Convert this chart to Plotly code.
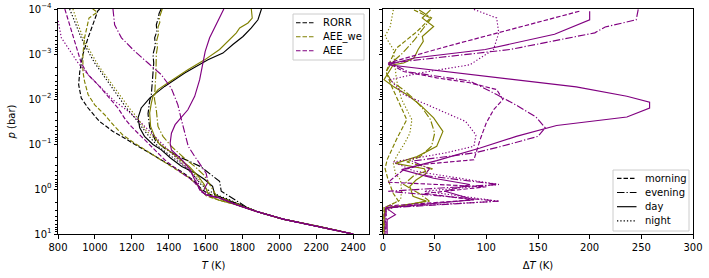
import plotly.graph_objects as go

# ---------------- data: left panel, temperature profiles ----------------
# pressure levels are given as log10(p / bar)
lp_rorr_day = [-4.0, -3.76, -3.58, -3.39, -3.21, -3.02, -2.87, -2.58, -2.28, -2.02, -1.8, -1.58, -1.36, -1.17, -0.99, -0.87, -0.69, -0.5, -0.36, -0.21, -0.06, 0.13, 0.2, 0.3, 0.4, 0.5, 0.67, 0.84, 1.0]
T_rorr_day = [1903, 1884, 1848, 1803, 1748, 1694, 1613, 1487, 1378, 1297, 1251, 1234, 1243, 1269, 1315, 1360, 1410, 1471, 1541, 1595, 1638, 1650, 1694, 1760, 1816, 1877, 2020, 2223, 2400]

lp_rorr_eve = [-4.0, -3.9, -3.8, -3.65, -3.5, -3.36, -3.2, -2.99, -2.8, -2.61, -2.32, -2.1, -1.96, -1.67, -1.37, -1.08, -0.9, -0.73, -0.5, -0.32, -0.17, 0.05, 0.16, 0.27, 0.4, 0.5, 0.67, 0.84, 1.0]
T_rorr_eve = [1359, 1348, 1344, 1333, 1336, 1324, 1328, 1315, 1319, 1315, 1311, 1306, 1297, 1288, 1297, 1328, 1379, 1450, 1572, 1631, 1676, 1685, 1731, 1771, 1821, 1877, 2020, 2223, 2400]

lp_rorr_mor = [-4.0, -3.96, -3.36, -2.99, -2.61, -2.32, -2.02, -1.8, -1.58, -1.5, -1.28, -0.99, -0.69, -0.39, -0.17, 0.0, 0.1, 0.2, 0.3, 0.4, 0.5, 0.67, 0.84, 1.0]
T_rorr_mor = [1026, 1016, 963, 935, 918, 912, 926, 963, 1008, 1026, 1098, 1216, 1342, 1469, 1541, 1577, 1613, 1674, 1755, 1816, 1877, 2020, 2223, 2400]

lp_rorr_nig = [-4.0, -3.73, -3.36, -3.06, -2.8, -2.54, -2.28, -2.02, -1.8, -1.58, -1.17, -0.95, -0.73, -0.5, -0.28, -0.1, 0.05, 0.15, 0.25, 0.35, 0.45, 0.5, 0.67, 0.84, 1.0]
T_rorr_nig = [863, 890, 926, 963, 999, 1044, 1089, 1134, 1171, 1217, 1293, 1342, 1414, 1487, 1541, 1576, 1623, 1674, 1735, 1786, 1842, 1877, 2020, 2223, 2400]

lp_we_day = [-4.0, -3.8, -3.69, -3.58, -3.47, -3.24, -3.1, -2.87, -2.65, -2.36, -2.21, -2.06, -1.91, -1.69, -1.39, -1.17, -0.99, -0.87, -0.7, -0.5, -0.3, -0.1, 0.05, 0.15, 0.25, 0.35, 0.5, 0.67, 0.84, 1.0]
T_we_day = [1848, 1853, 1830, 1785, 1767, 1713, 1676, 1595, 1504, 1397, 1342, 1315, 1306, 1297, 1302, 1324, 1351, 1397, 1450, 1511, 1557, 1593, 1608, 1618, 1674, 1767, 1877, 2020, 2223, 2400]

lp_we_eve = [-4.0, -3.9, -3.8, -3.7, -3.6, -3.45, -3.3, -3.15, -3.0, -2.6, -2.3, -2.0, -1.76, -1.39, -1.17, -0.95, -0.7, -0.5, -0.3, -0.1, 0.05, 0.15, 0.3, 0.4, 0.5, 0.67, 0.84, 1.0]
T_we_eve = [1365, 1356, 1349, 1352, 1342, 1345, 1335, 1339, 1333, 1331, 1328, 1323, 1333, 1342, 1369, 1414, 1481, 1542, 1593, 1623, 1644, 1659, 1750, 1816, 1877, 2020, 2223, 2400]

lp_we_mor = [-4.0, -3.93, -3.8, -3.36, -2.99, -2.61, -2.39, -2.1, -1.87, -1.65, -1.4, -1.2, -1.0, -0.75, -0.5, -0.25, -0.1, 0.05, 0.15, 0.25, 0.35, 0.5, 0.67, 0.84, 1.0]
T_we_mor = [988, 1013, 968, 944, 935, 935, 944, 963, 999, 1053, 1105, 1151, 1222, 1318, 1415, 1511, 1552, 1583, 1603, 1674, 1767, 1877, 2020, 2223, 2400]

lp_we_nig = [-4.0, -3.65, -3.28, -3.02, -2.76, -2.5, -2.24, -1.98, -1.8, -1.6, -1.3, -1.0, -0.75, -0.5, -0.25, -0.05, 0.1, 0.25, 0.35, 0.5, 0.67, 0.84, 1.0]
T_we_nig = [881, 909, 944, 981, 1016, 1062, 1107, 1153, 1186, 1227, 1278, 1354, 1430, 1501, 1557, 1593, 1623, 1694, 1767, 1877, 2020, 2223, 2400]

lp_aee_day = [-4.0, -3.8, -3.58, -3.36, -3.06, -2.76, -2.43, -2.06, -1.76, -1.58, -1.43, -1.24, -1.02, -0.87, -0.63, -0.43, -0.24, -0.1, 0.01, 0.13, 0.2, 0.35, 0.5, 0.67, 0.84, 1.0]
T_aee_day = [1699, 1676, 1650, 1622, 1598, 1583, 1568, 1541, 1504, 1466, 1435, 1415, 1408, 1415, 1476, 1516, 1537, 1557, 1568, 1604, 1676, 1767, 1877, 2020, 2223, 2400]

lp_aee_eve = [-4.0, -3.65, -3.36, -3.06, -2.8, -2.54, -2.24, -1.87, -1.54, -1.24, -0.95, -0.75, -0.55, -0.35, -0.15, 0.0, 0.13, 0.2, 0.35, 0.5, 0.67, 0.84, 1.0]
T_aee_eve = [1098, 1107, 1144, 1216, 1288, 1360, 1414, 1450, 1469, 1486, 1506, 1537, 1572, 1603, 1613, 1593, 1608, 1676, 1767, 1877, 2020, 2223, 2400]

lp_aee_mor = [-4.0, -3.65, -3.28, -2.8, -2.54, -2.32, -2.06, -1.8, -1.54, -1.39, -1.02, -0.65, -0.36, -0.21, -0.06, 0.05, 0.13, 0.2, 0.35, 0.5, 0.67, 0.84, 1.0]
T_aee_mor = [837, 863, 890, 926, 963, 1016, 1071, 1125, 1166, 1197, 1288, 1378, 1469, 1523, 1559, 1572, 1604, 1676, 1767, 1877, 2020, 2223, 2400]

lp_aee_nig = [-4.0, -3.76, -3.36, -3.13, -2.8, -2.54, -2.24, -1.95, -1.76, -1.47, -1.17, -0.87, -0.58, -0.36, -0.17, 0.0, 0.13, 0.2, 0.35, 0.5, 0.67, 0.84, 1.0]
T_aee_nig = [770, 800, 818, 854, 909, 963, 1035, 1107, 1171, 1251, 1324, 1397, 1469, 1523, 1559, 1568, 1604, 1676, 1767, 1877, 2020, 2223, 2400]

# ---------------- data: right panel, temperature differences ----------------
lp_dwe_day = [-3.98, -3.8, -3.61, -3.39, -3.28, -3.1, -2.91, -2.8, -2.76, -2.54, -2.43, -2.28, -2.1, -1.87, -1.58, -1.28, -0.95, -0.72, -0.57, -0.45, -0.35, -0.2, -0.06, 0.16, 0.27, 0.44, 0.6, 1.0]
dT_we_day = [46, 38, 49, 38, 39, 34, 30, 20, 10, 4, 1, 10, 23, 36, 49, 58, 52, 33, 12, 40, 42, 32, 26, 29, 42, 3, 1, 1]

lp_dwe_eve = [-3.98, -3.8, -3.6, -3.3, -3.0, -2.8, -2.6, -2.4, -2.2, -2.0, -1.8, -1.54, -1.24, -0.95, -0.72, -0.6, -0.45, -0.3, -0.1, 0.1, 0.27, 0.42, 0.6, 1.0]
dT_we_eve = [35, 47, 40, 30, 18, 8, 3, 8, 20, 30, 38, 46, 50, 47, 36, 23, 48, 30, 20, 35, 45, 2, 1, 1]

lp_dwe_mor = [-3.98, -3.8, -3.5, -3.32, -3.13, -2.84, -2.6, -2.3, -2.0, -1.54, -1.1, -0.8, -0.65, -0.45, -0.2, 0.1, 0.27, 0.42, 0.6, 1.0]
dT_we_mor = [30, 46, 33, 23, 13, 7, 3, 8, 14, 23, 13, 7, 4, 2, 5, 10, 15, 1, 1, 1]

lp_dwe_nig = [-3.98, -3.61, -3.4, -3.1, -2.43, -1.99, -1.54, -1.24, -1.02, -0.72, -0.57, -0.35, -0.2, 0.05, 0.24, 0.42, 0.6, 1.0]
dT_we_nig = [10, 7, 2, 10, 13, 18, 28, 26, 21, 13, 10, 12, 17, 18, 17, 1, 1, 1]

lp_daee_day = [-3.95, -3.76, -3.44, -3.1, -2.91, -2.76, -2.27, -2.06, -1.93, -1.8, -1.6, -1.41, -1.17, -0.91, -0.63, -0.43, -0.24, -0.1, 0.05, 0.24, 0.42, 0.57, 0.68, 1.0]
dT_aee_day = [200, 200, 166, 99, 30, 5, 187, 236, 258, 258, 236, 168, 129, 94, 52, 18, 49, 84, 60, 88, 3, 12, 4, 4]

lp_daee_mor = [-3.95, -3.5, -3.17, -2.8, -2.61, -2.47, -2.36, -2.21, -1.99, -1.76, -1.47, -1.1, -0.65, -0.55, -0.43, -0.15, -0.05, 0.1, 0.24, 0.38, 0.5, 1.0]
dT_aee_mor = [190, 116, 62, 5, 20, 52, 84, 110, 116, 107, 100, 94, 88, 40, 20, 5, 100, 40, 88, 3, 2, 2]

lp_daee_eve = [-3.99, -3.76, -3.6, -3.47, -3.1, -2.8, -2.6, -2.4, -2.1, -1.85, -1.6, -1.36, -1.17, -0.95, -0.8, -0.62, -0.45, -0.3, -0.1, 0.05, 0.27, 0.42, 1.0]
dT_aee_eve = [247, 245, 215, 205, 123, 7, 25, 84, 110, 130, 148, 157, 150, 115, 88, 28, 45, 40, 112, 5, 112, 3, 3]

lp_daee_nig = [-3.99, -3.8, -3.47, -3.1, -2.76, -2.58, -2.43, -2.1, -1.8, -1.5, -1.2, -0.95, -0.8, -0.6, -0.4, -0.1, 0.05, 0.27, 0.4, 0.5, 1.0]
dT_aee_nig = [88, 110, 112, 107, 84, 36, 7, 20, 50, 80, 90, 88, 60, 10, 30, 112, 40, 112, 10, 3, 2]

model_names = ["RORR", "AEE_we", "AEE"]
limb_names = ["morning", "evening", "day", "night"]
T_ticks = [800, 1000, 1200, 1400, 1600, 1800, 2000, 2200, 2400]
dT_ticks = [0, 50, 100, 150, 200, 250, 300]
p_ticks = [1e-4, 1e-3, 1e-2, 1e-1, 1e0, 1e1]
p_ticklabels = ["10<sup>−4</sup>", "10<sup>−3</sup>", "10<sup>−2</sup>", "10<sup>−1</sup>", "10<sup>0</sup>", "10<sup>1</sup>"]

# ---------------- styles ----------------
colors = {"RORR": "#000000", "AEE_we": "#808000", "AEE": "#800080"}
dashes = {"morning": "4.5px,2px", "evening": "7.5px,2px,1.3px,2px", "day": "solid", "night": "1.3px,2px"}
LW = 1.15

W, H = 709, 278
ML, MR, MT, MB = 58, 16, 9, 44
PW = W - ML - MR
PH = H - MT - MB


def pv(lp):
    return [10 ** v for v in lp]


def px(xpix):
    return (xpix - ML) / PW


def py(ypix):
    return 1 - (ypix - MT) / PH


left_sets = {
    "RORR": {"morning": (lp_rorr_mor, T_rorr_mor), "evening": (lp_rorr_eve, T_rorr_eve),
             "day": (lp_rorr_day, T_rorr_day), "night": (lp_rorr_nig, T_rorr_nig)},
    "AEE_we": {"morning": (lp_we_mor, T_we_mor), "evening": (lp_we_eve, T_we_eve),
               "day": (lp_we_day, T_we_day), "night": (lp_we_nig, T_we_nig)},
    "AEE": {"morning": (lp_aee_mor, T_aee_mor), "evening": (lp_aee_eve, T_aee_eve),
            "day": (lp_aee_day, T_aee_day), "night": (lp_aee_nig, T_aee_nig)},
}
right_sets = {
    "AEE_we": {"morning": (lp_dwe_mor, dT_we_mor), "evening": (lp_dwe_eve, dT_we_eve),
               "day": (lp_dwe_day, dT_we_day), "night": (lp_dwe_nig, dT_we_nig)},
    "AEE": {"morning": (lp_daee_mor, dT_aee_mor), "evening": (lp_daee_eve, dT_aee_eve),
            "day": (lp_daee_day, dT_aee_day), "night": (lp_daee_nig, dT_aee_nig)},
}

fig = go.Figure()

for m in model_names:
    for limb in ["day", "evening", "night", "morning"]:
        lp, T = left_sets[m][limb]
        fig.add_trace(go.Scatter(
            x=T, y=pv(lp), mode="lines", xaxis="x", yaxis="y",
            line=dict(color=colors[m], width=LW, dash=dashes[limb]),
            name=f"{m} {limb}", showlegend=False, hoverinfo="skip"))

for m in ["AEE_we", "AEE"]:
    for limb in ["day", "evening", "night", "morning"]:
        lp, dT = right_sets[m][limb]
        fig.add_trace(go.Scatter(
            x=dT, y=pv(lp), mode="lines", xaxis="x2", yaxis="y2",
            line=dict(color=colors[m], width=LW, dash=dashes[limb]),
            name=f"ΔT {m} {limb}", showlegend=False, hoverinfo="skip"))

font = dict(family="DejaVu Sans, sans-serif", size=10, color="black")

# ---------------- legends (drawn as boxes, line samples and labels) ----------------
shapes = []
annotations = []


def legend_box(x0, y0, x1, y1):
    shapes.append(dict(type="rect", xref="paper", yref="paper",
                       x0=px(x0), x1=px(x1), y0=py(y1), y1=py(y0),
                       line=dict(color="#cccccc", width=1), fillcolor="rgba(255,255,255,0.85)",
                       layer="above"))


def legend_entry(xl0, xl1, yl, xt, text, color, dash):
    shapes.append(dict(type="line", xref="paper", yref="paper",
                       x0=px(xl0), x1=px(xl1), y0=py(yl), y1=py(yl),
                       line=dict(color=color, width=LW, dash=dash), layer="above"))
    annotations.append(dict(xref="paper", yref="paper", x=px(xt), y=py(yl), text=text,
                            showarrow=False, xanchor="left", yanchor="middle", font=font))


legend_box(293, 14, 364, 60)
for i, m in enumerate(model_names):
    legend_entry(296, 315, 22.7 + 14 * i, 321, m, colors[m], dashes["morning"])

legend_box(613, 170, 689, 231)
for i, limb in enumerate(limb_names):
    legend_entry(617, 636.5, 178.3 + 14.2 * i, 643, limb, "#000000", dashes[limb])

minor_vals = [k * 10 ** e for e in range(-4, 1) for k in range(2, 10)]

axis_common = dict(showline=True, linecolor="black", linewidth=1, mirror=True,
                   ticks="outside", ticklen=3.5, tickwidth=0.8, tickcolor="black",
                   showgrid=False, zeroline=False, tickfont=font, automargin=False)

yaxis_common = dict(type="log", range=[1, -4], autorange=False,
                    tickmode="array", tickvals=p_ticks, ticktext=p_ticklabels,
                    minor=dict(tickmode="array", tickvals=minor_vals, ticks="outside",
                               ticklen=2, tickwidth=0.6, tickcolor="black", showgrid=False),
                    **axis_common)

fig.update_layout(
    width=W, height=H,
    margin=dict(l=ML, r=MR, t=MT, b=MB),
    paper_bgcolor="white", plot_bgcolor="white",
    font=font, showlegend=False,
    xaxis=dict(domain=[0, px(369)], range=[800, 2486], tickmode="array", tickvals=T_ticks,
               title=dict(text="<i>T</i> (K)", font=font, standoff=10), anchor="y", **axis_common),
    xaxis2=dict(domain=[px(383), 1], range=[0, 300], tickmode="array", tickvals=dT_ticks,
                title=dict(text="Δ<i>T</i> (K)", font=font, standoff=10), anchor="y2", **axis_common),
    yaxis=dict(domain=[0, 1], anchor="x", title=dict(text="<i>p</i> (bar)", font=font, standoff=10),
               **yaxis_common),
    yaxis2=dict(domain=[0, 1], anchor="x2", matches="y", showticklabels=False, **yaxis_common),
    shapes=shapes, annotations=annotations,
)

fig.write_html("out.html", config={"displayModeBar": False},
               post_script="document.body.style.margin='0';")
